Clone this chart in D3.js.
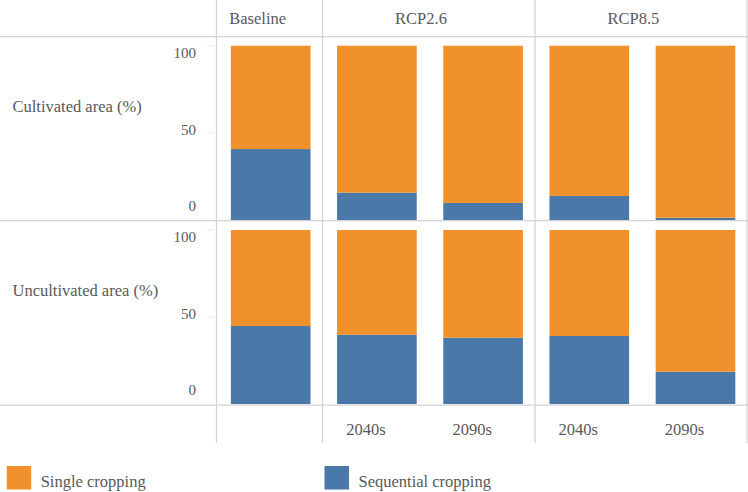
<!DOCTYPE html>
<html>
<head>
<meta charset="utf-8">
<script src="https://cdn.jsdelivr.net/npm/d3@7"></script>
<style>
  html, body { margin: 0; padding: 0; background: #fff; }
</style>
</head>
<body>
<div id="chart"></div>
<script>
// data
const groups = ['Baseline', 'RCP2.6', 'RCP8.5'];
const periods = ['', '2040s', '2090s', '2040s', '2090s'];
const barGroup = [0, 1, 1, 2, 2];
const rows = ['Cultivated area (%)', 'Uncultivated area (%)'];
const sequential = [
  [40.7, 15.7, 9.8, 13.8, 1.3],
  [44.8, 39.8, 38.1, 39.1, 18.6]
];
const single = sequential.map(r => r.map(v => 100 - v));
const yTicks = [0, 50, 100];
const seriesNames = ['Single cropping', 'Sequential cropping'];
const colors = ['#F0912C', '#4A78A9'];

const W = 748, H = 492;
const gridColor = '#d4d4d4';
const serif = "'Liberation Serif', 'Times New Roman', Times, 'DejaVu Serif', serif";

const svg = d3.select('#chart').append('svg')
  .attr('width', W)
  .attr('height', H)
  .attr('font-family', serif)
  .style('font-family', serif);

const colEdges = [216.5, 322.5, 535, 747];
const rowBands = [[45.7, 220], [230, 404]];
const headerShift = [-13, -9, -9];

const x = d3.scaleBand()
  .domain(d3.range(periods.length))
  .range([216, 747])
  .paddingInner(0.25)
  .paddingOuter(0.125)
  .align(0.56);

// grid lines
const grid = svg.append('g');
grid.selectAll('line.v')
  .data(colEdges)
  .enter().append('line')
  .attr('x1', d => d).attr('x2', d => d)
  .attr('y1', 0).attr('y2', 443)
  .attr('stroke', gridColor).attr('stroke-width', 1.3);
grid.selectAll('line.h')
  .data([36.7, 220.7, 405.2])
  .enter().append('line')
  .attr('x1', 0).attr('x2', W)
  .attr('y1', d => d).attr('y2', d => d)
  .attr('stroke', gridColor).attr('stroke-width', 1.3);

function label(sel) {
  return sel.attr('fill', '#595959').attr('font-family', serif);
}

// group headers
groups.forEach((g, gi) => {
  const idx = d3.range(periods.length).filter(i => barGroup[i] === gi);
  const cx = d3.mean(idx, i => x(i) + x.bandwidth() / 2);
  svg.append('text')
    .call(label)
    .attr('x', cx + headerShift[gi])
    .attr('y', 18.5)
    .attr('dy', '0.35em')
    .attr('text-anchor', 'middle')
    .attr('font-size', 16.5)
    .text(g);
});

// period labels
svg.selectAll('text.period')
  .data(periods)
  .enter().append('text')
  .call(label)
  .attr('x', (d, i) => x(i) + x.bandwidth() / 2 - 11)
  .attr('y', 429)
  .attr('dy', '0.35em')
  .attr('text-anchor', 'middle')
  .attr('font-size', 16.5)
  .text(d => d);

rows.forEach((rowName, ri) => {
  const [top, bottom] = rowBands[ri];
  const y = d3.scaleLinear().domain([0, 100]).range([bottom, top]);
  const labelY = d3.scaleLinear().domain([0, 100]).range([bottom - 14, top + 7]);
  const g = svg.append('g');

  g.append('text')
    .call(label)
    .attr('x', 12.5)
    .attr('y', (top + bottom) / 2 - 27)
    .attr('dy', '0.35em')
    .attr('font-size', 16.5)
    .text(rowName);

  g.selectAll('text.tick')
    .data(yTicks)
    .enter().append('text')
    .call(label)
    .attr('x', 196)
    .attr('y', d => labelY(d))
    .attr('dy', '0.35em')
    .attr('text-anchor', 'end')
    .attr('font-size', 15)
    .text(d => d);

  g.selectAll('line.tick')
    .data([50, 100])
    .enter().append('line')
    .attr('x1', 207).attr('x2', 214)
    .attr('y1', d => y(d)).attr('y2', d => y(d))
    .attr('stroke', '#ececec');

  // sequential (bottom)
  g.selectAll('rect.seq')
    .data(sequential[ri])
    .enter().append('rect')
    .attr('x', (d, i) => x(i))
    .attr('width', x.bandwidth())
    .attr('y', d => y(d))
    .attr('height', d => y(0) - y(d))
    .attr('fill', colors[1]);

  // single (stacked on top)
  g.selectAll('rect.single')
    .data(single[ri])
    .enter().append('rect')
    .attr('x', (d, i) => x(i))
    .attr('width', x.bandwidth())
    .attr('y', (d, i) => y(sequential[ri][i] + d))
    .attr('height', d => y(0) - y(d))
    .attr('fill', colors[0]);
});

// legend
const legendX = [6.7, 324.5];
seriesNames.forEach((name, i) => {
  svg.append('rect')
    .attr('x', legendX[i]).attr('y', 466)
    .attr('width', 24.5).attr('height', 23.5)
    .attr('fill', colors[i]);
  svg.append('text')
    .call(label)
    .attr('x', legendX[i] + 34)
    .attr('y', 481.5)
    .attr('dy', '0.35em')
    .attr('font-size', 16.5)
    .text(name);
});
</script>
</body>
</html>
